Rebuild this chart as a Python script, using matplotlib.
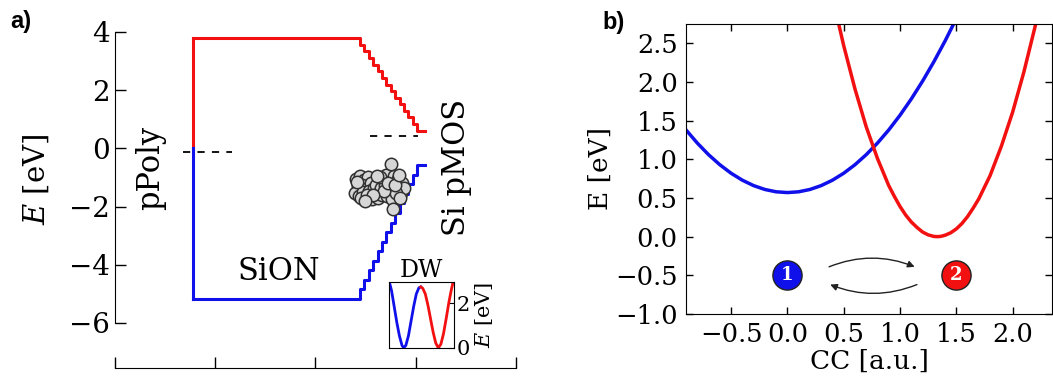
import matplotlib
matplotlib.use("Agg")
import matplotlib.pyplot as plt

plt.rcParams['font.family'] = ['DejaVu Serif']
plt.rcParams['mathtext.fontset'] = 'dejavuserif'

RED = '#f21010'
BLUE = '#1010ea'

# ---- panel a: band diagram ----
# conduction band edge (red), step levels along the oxide
cb_x = [0.78, 2.44, 2.48, 2.53, 2.57, 2.62, 2.66, 2.70, 2.75, 2.79, 2.84, 2.88, 2.92, 2.97, 3.01, 3.09]
cb_y = [3.78, 3.55, 3.33, 3.10, 2.87, 2.65, 2.42, 2.19, 1.96, 1.74, 1.51, 1.28, 1.06, 0.83, 0.60, 0.60]
# valence band edge (blue)
vb_x = [0.78, 2.44, 2.48, 2.53, 2.57, 2.62, 2.66, 2.70, 2.75, 2.79, 2.84, 2.88, 2.92, 2.97, 3.01, 3.09]
vb_y = [-5.18, -4.85, -4.52, -4.19, -3.86, -3.53, -3.21, -2.88, -2.55, -2.22, -1.89, -1.56, -1.23, -0.90, -0.57, -0.57]
gate_x = 0.78
gate_fermi = [0.0, 3.78, -5.18]  # junction level, top, bottom

fermi_left_x = [0.68, 1.17]
fermi_left_y = -0.12
fermi_right_x = [2.54, 3.02]
fermi_right_y = 0.42

# defect energies (grey circles)
defect_x = [2.40, 2.44, 2.48, 2.52, 2.42, 2.46, 2.50, 2.55, 2.39, 2.43, 2.47, 2.53, 2.58, 2.41,
            2.45, 2.51, 2.56, 2.60, 2.63, 2.67, 2.70, 2.74, 2.78, 2.82, 2.86, 2.65, 2.69, 2.73,
            2.77, 2.81, 2.85, 2.88, 2.62, 2.66, 2.71, 2.76, 2.80, 2.84, 2.64, 2.68, 2.72, 2.79,
            2.83, 2.57, 2.49, 2.61, 2.75, 2.77]
defect_y = [-1.05, -0.95, -1.10, -1.00, -1.30, -1.25, -1.40, -1.20, -1.55, -1.65, -1.50, -1.45,
            -1.35, -1.15, -1.70, -1.60, -1.75, -1.25, -1.55, -1.05, -0.90, -1.15, -0.95, -1.05,
            -1.20, -1.35, -1.25, -1.45, -1.30, -1.40, -1.55, -1.35, -1.70, -1.60, -1.65, -1.75,
            -1.55, -1.70, -1.00, -1.45, -1.20, -1.25, -0.90, -1.60, -1.80, -0.95, -0.53, -2.08]

a_yticks = [-6, -4, -2, 0, 2, 4]
a_xticks = [0, 1, 2, 3, 4]

# inset double well
dw_blue_x = [0.0, 0.04, 0.08, 0.12, 0.16, 0.20, 0.227, 0.26, 0.30, 0.34, 0.38, 0.42, 0.46, 0.49]
dw_blue_y = [3.0, 2.55, 1.85, 1.15, 0.55, 0.12, 0.0, 0.12, 0.55, 1.20, 1.85, 2.40, 2.68, 2.72]
dw_red_x = [0.49, 0.52, 0.56, 0.60, 0.64, 0.68, 0.72, 0.76, 0.80, 0.84, 0.88, 0.92, 0.96, 1.0]
dw_red_y = [2.72, 2.66, 2.40, 1.90, 1.30, 0.70, 0.22, 0.0, 0.18, 0.65, 1.30, 2.00, 2.60, 3.10]

# ---- panel b: configuration coordinate diagram ----
cc_blue = [-0.9, -0.8, -0.7, -0.6, -0.5, -0.4, -0.3, -0.2, -0.1, 0.0, 0.1, 0.2, 0.3, 0.4,
           0.5, 0.6, 0.7, 0.8, 0.9, 1.0, 1.1, 1.2, 1.3, 1.4, 1.5]
e_blue = [1.38, 1.21, 1.06, 0.93, 0.82, 0.73, 0.66, 0.61, 0.58, 0.57, 0.58, 0.61, 0.66, 0.73,
          0.82, 0.93, 1.06, 1.21, 1.38, 1.57, 1.78, 2.01, 2.26, 2.53, 2.82]
cc_red = [0.4, 0.5, 0.6, 0.7, 0.8, 0.9, 0.95, 1.0, 1.05, 1.1, 1.15, 1.2, 1.25, 1.3, 1.33,
          1.36, 1.4, 1.45, 1.5, 1.55, 1.6, 1.65, 1.7, 1.8, 1.9, 2.0, 2.1, 2.2, 2.3]
e_red = [3.10, 2.47, 1.91, 1.42, 1.01, 0.66, 0.52, 0.39, 0.28, 0.19, 0.12, 0.06, 0.023, 0.003,
         0.0, 0.003, 0.018, 0.05, 0.10, 0.17, 0.26, 0.37, 0.49, 0.79, 1.17, 1.61, 2.13, 2.72, 3.38]
b_xticks = [-0.5, 0.0, 0.5, 1.0, 1.5, 2.0]
b_yticks = [-1.0, -0.5, 0.0, 0.5, 1.0, 1.5, 2.0, 2.5]
state_x = [0.0, 1.5]
state_y = [-0.5, -0.5]
state_labels = ['1', '2']

fig = plt.figure(figsize=(10.53, 3.83), dpi=100)

# panel a
ax = fig.add_axes([0.1092, 0.0392, 0.3808, 0.8812])
ax.plot([gate_x, gate_x], [gate_fermi[0], gate_fermi[1]], color=RED, lw=2.2)
ax.plot([gate_x, gate_x], [gate_fermi[0], gate_fermi[2]], color=BLUE, lw=2.2)
ax.step(cb_x, cb_y, where='post', color=RED, lw=2.2)
ax.step(vb_x, vb_y, where='post', color=BLUE, lw=2.2)
ax.plot(fermi_left_x, [fermi_left_y] * 2, color='black', lw=1.3, dashes=(4, 4))
ax.plot(fermi_right_x, [fermi_right_y] * 2, color='black', lw=1.3, dashes=(4, 4))
ax.scatter(defect_x, defect_y, s=80, facecolor='#d6d6d6', edgecolor='#303030', linewidth=1.1, zorder=3)

ax.set_xlim(0, 4)
ax.set_ylim(-7.55, 4.05)
ax.set_yticks(a_yticks)
ax.set_yticklabels([str(v).replace('-', '\u2212') for v in a_yticks])
ax.set_xticks(a_xticks)
ax.set_xticklabels([])
for s in ['top', 'right']:
    ax.spines[s].set_visible(False)
ax.spines['left'].set_bounds(-6, 4)
ax.spines['bottom'].set_bounds(0, 4)
ax.tick_params(direction='in', length=8, width=1, labelsize=20, pad=4)
ax.set_ylabel(r'$E$ [eV]', fontsize=21)
ax.yaxis.set_label_coords(-0.16, 0.56)

ax.text(0.36, -0.67, 'pPoly', rotation=90, ha='center', va='center', fontsize=22)
ax.text(3.41, -0.67, 'Si pMOS', rotation=90, ha='center', va='center', fontsize=22)
ax.text(1.63, -4.25, 'SiON', ha='center', va='center', fontsize=22)

ins = fig.add_axes([0.3694, 0.0914, 0.0617, 0.1723])
ins.plot(dw_blue_x, dw_blue_y, color=BLUE, lw=2)
ins.plot(dw_red_x, dw_red_y, color=RED, lw=2)
ins.set_xlim(0, 1)
ins.set_ylim(0, 2.94)
ins.set_xticks([])
ins.set_yticks([0, 2])
ins.yaxis.tick_right()
ins.yaxis.set_label_position('right')
ins.tick_params(direction='in', length=4, labelsize=15, pad=2)
ins.set_ylabel(r'$E$ [eV]', fontsize=15, labelpad=2)
ins.set_title('DW', fontsize=17, pad=2)

# panel b
bx = fig.add_axes([0.6515, 0.1802, 0.3476, 0.7572])
bx.plot(cc_blue, e_blue, color=BLUE, lw=2.5)
bx.plot(cc_red, e_red, color=RED, lw=2.5)
bx.set_xlim(-0.9, 2.35)
bx.set_ylim(-1.0, 2.75)
bx.set_xticks(b_xticks)
bx.set_yticks(b_yticks)
bx.set_xticklabels([f'{v:.1f}'.replace('-', '\u2212') for v in b_xticks])
bx.set_yticklabels([f'{v:.1f}'.replace('-', '\u2212') for v in b_yticks])
bx.tick_params(direction='in', length=5, width=1, labelsize=18.5, top=True, right=True, pad=6)
bx.set_xlabel('CC [a.u.]', fontsize=19, labelpad=1)
bx.set_ylabel('E [eV]', fontsize=19, labelpad=2)

for xs, ys, lab, col in zip(state_x, state_y, state_labels, [BLUE, RED]):
    bx.plot(xs, ys, 'o', ms=21, color=col, mec='#222222', mew=1)
    bx.text(xs, ys, lab, color='white', ha='center', va='center', fontsize=13, fontweight='bold')

bx.annotate('', xy=(1.13, -0.39), xytext=(0.37, -0.39),
            arrowprops=dict(arrowstyle='-|>', color='#222222', lw=1, mutation_scale=10,
                            connectionstyle='arc3,rad=-0.2', shrinkA=0, shrinkB=0))
bx.annotate('', xy=(0.38, -0.62), xytext=(1.15, -0.62),
            arrowprops=dict(arrowstyle='-|>', color='#222222', lw=1, mutation_scale=10,
                            connectionstyle='arc3,rad=-0.2', shrinkA=0, shrinkB=0))

fig.text(0.010, 0.945, 'a)', fontsize=17, fontweight='bold', family='Liberation Sans', va='center')
fig.text(0.572, 0.94, 'b)', fontsize=17, fontweight='bold', family='Liberation Sans', va='center')

fig.savefig('out.png', dpi=100)
